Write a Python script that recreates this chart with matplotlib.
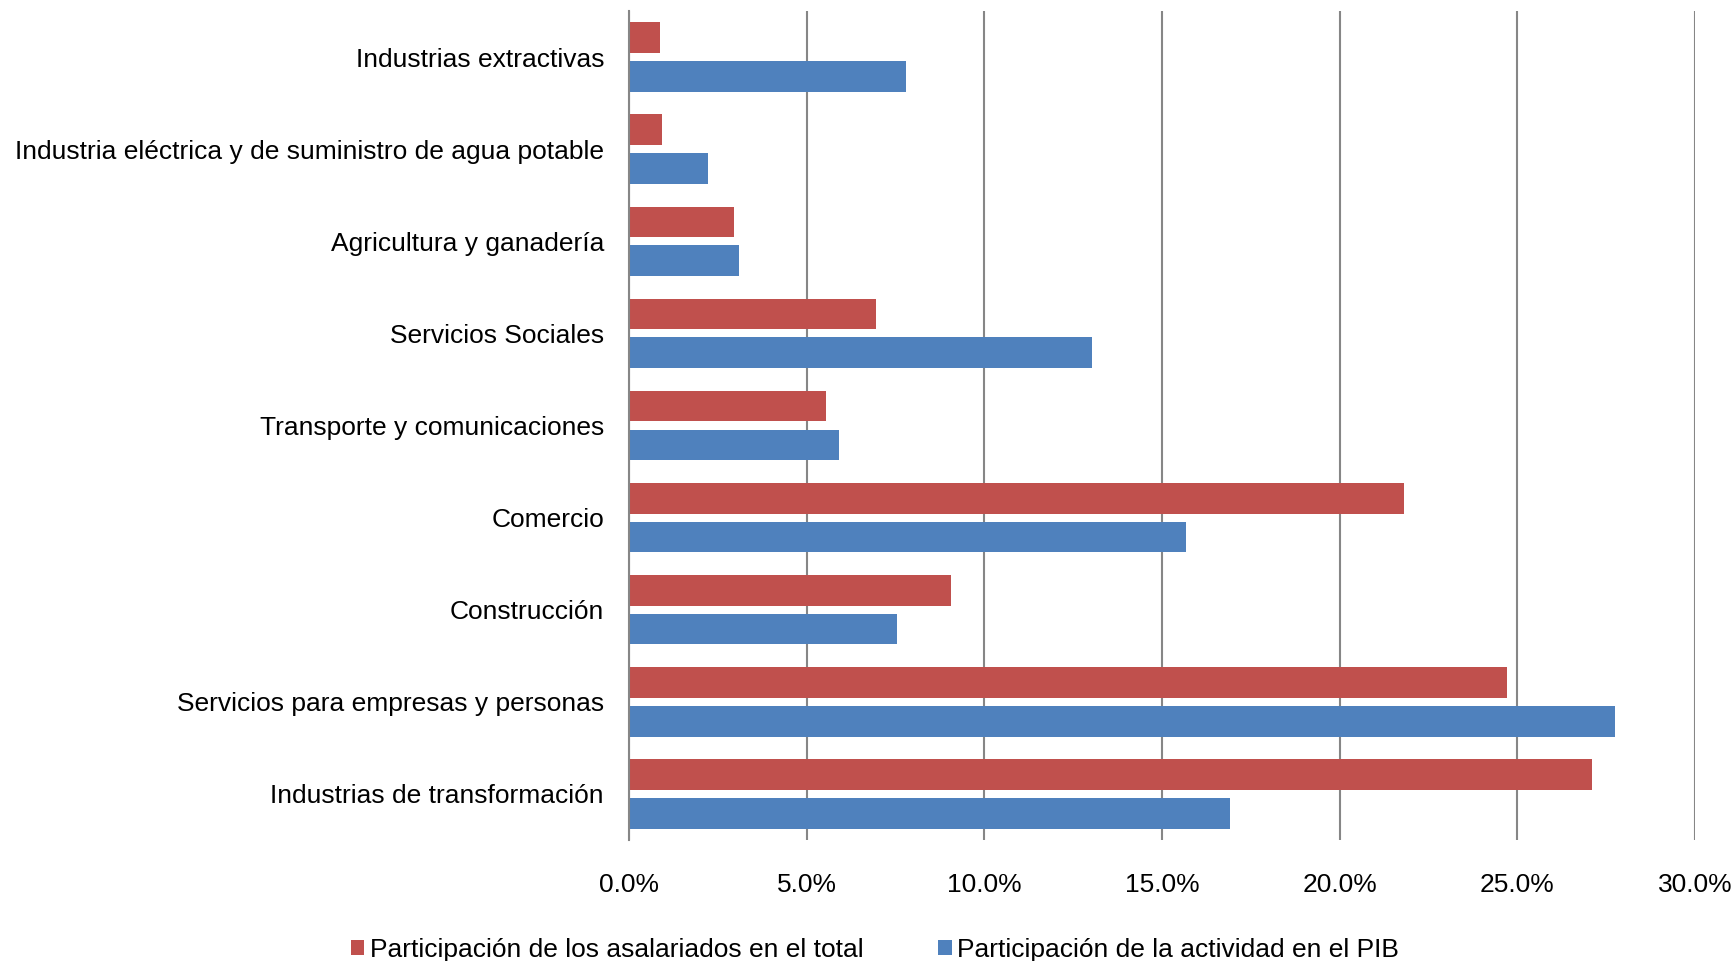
import matplotlib.pyplot as plt
import numpy as np
from matplotlib.ticker import PercentFormatter

plt.rcParams['font.family'] = ['Liberation Sans', 'DejaVu Sans']

# categories from bottom to top, as drawn
sectores = [
    'Industrias de transformación',
    'Servicios para empresas y personas',
    'Construcción',
    'Comercio',
    'Transporte y comunicaciones',
    'Servicios Sociales',
    'Agricultura y ganadería',
    'Industria eléctrica y de suministro de agua potable',
    'Industrias extractivas',
]
asalariados = [27.1, 24.7, 9.06, 21.8, 5.54, 6.96, 2.95, 0.93, 0.86]  # % del total
pib = [16.9, 27.76, 7.54, 15.67, 5.91, 13.02, 3.09, 2.23, 7.8]  # % del PIB

label_red = 'Participación de los asalariados en el total'
label_blue = 'Participación de la actividad en el PIB'
red = '#C0504D'
blue = '#4F81BD'

fig = plt.figure(figsize=(17.34, 9.61), dpi=100)
ax = fig.add_axes([629 / 1734, 1 - 840 / 961, (1695 - 629) / 1734, (840 - 11) / 961])

y = np.arange(len(sectores))
h = 0.333
off = 0.21
ax.barh(y + off, asalariados, height=h, color=red, label=label_red, zorder=3)
ax.barh(y - off, pib, height=h, color=blue, label=label_blue, zorder=3)

ax.set_xlim(0, 30)
ax.set_ylim(-0.5, len(sectores) - 0.5)
ax.set_xticks(np.arange(0, 31, 5))
ax.xaxis.set_major_formatter(PercentFormatter(decimals=1))
ax.set_yticks(y)
ax.set_yticklabels(sectores)

ax.grid(axis='x', color='#868686', linewidth=1.5, zorder=0)
for s in ['top', 'right', 'bottom']:
    ax.spines[s].set_visible(False)
ax.spines['left'].set_color('#868686')
ax.spines['left'].set_linewidth(1.5)
ax.spines['left'].set_zorder(4)

ax.tick_params(axis='y', length=0, pad=18, labelsize=19)
ax.tick_params(axis='x', length=0, pad=24, labelsize=19)

fig.legend(loc='center', bbox_to_anchor=(875 / 1734, 1 - 950 / 961), ncol=2,
           frameon=False, fontsize=19, handlelength=0.5, handleheight=0.5,
           handletextpad=0.2, columnspacing=2.85)

fig.savefig('out.png', dpi=100)
